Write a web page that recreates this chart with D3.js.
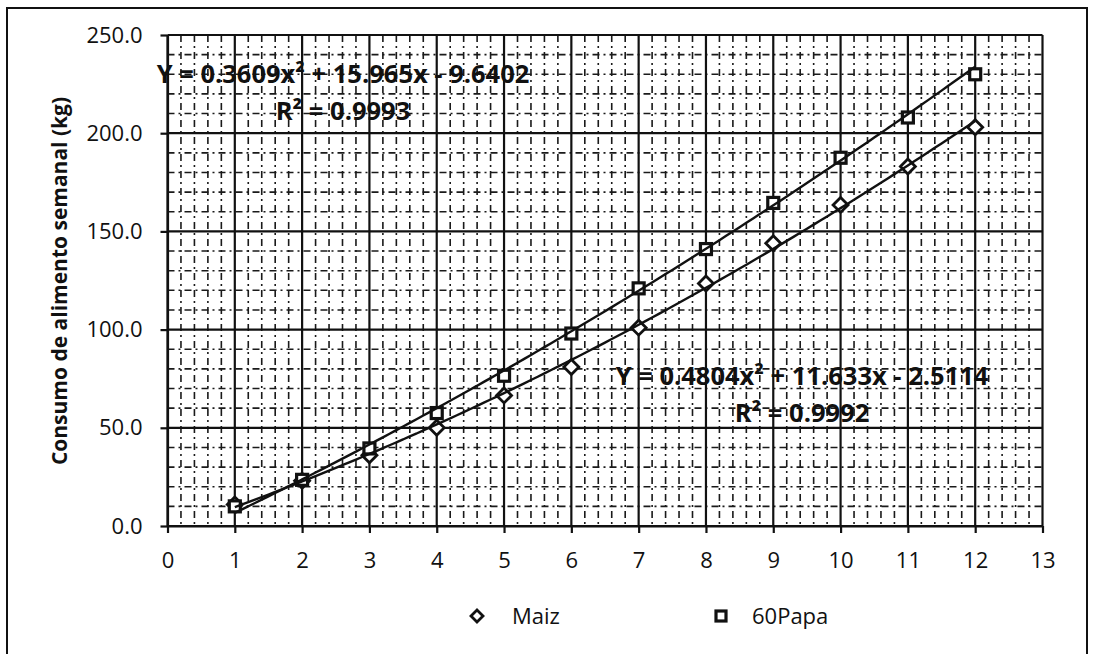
<!DOCTYPE html>
<html>
<head>
<meta charset="utf-8">
<script src="https://cdn.jsdelivr.net/npm/d3@7"></script>
<style>
  body { margin: 0; background: #fff; }
  text { font-family: "Open Sans", sans-serif; fill: #111; }
</style>
</head>
<body>
<script>
// Datos
const semanas = [1, 2, 3, 4, 5, 6, 7, 8, 9, 10, 11, 12];
const maiz = [11.0, 23.0, 36.0, 50.0, 66.5, 81.0, 101.0, 123.5, 144.0, 163.5, 183.0, 203.0];
const papa = [10.0, 23.5, 39.5, 57.5, 76.5, 98.0, 121.0, 141.0, 164.5, 187.5, 208.0, 230.0];

// Coeficientes de las lineas de tendencia (polinomica de grado 2)
const papaFit = [0.3609, 15.965, -9.6402];
const maizFit = [0.4804, 11.633, -2.5114];

const xTicks = [0, 1, 2, 3, 4, 5, 6, 7, 8, 9, 10, 11, 12, 13];
const yTicks = [0, 50, 100, 150, 200, 250];
const series = ["Maiz", "60Papa"];
const labels = [
    { eq: "Y = 0.3609x² + 15.965x - 9.6402", r2: "R² = 0.9993", cx: 343, y1: 83, y2: 120 },
    { eq: "Y = 0.4804x² + 11.633x - 2.5114", r2: "R² = 0.9992", cx: 802, y1: 385, y2: 422 }
];

const W = 1095, H = 654;
const svg = d3.select("body").append("svg")
    .attr("width", W).attr("height", H);

svg.append("rect").attr("width", W).attr("height", H).attr("fill", "#fff");

// marco exterior
svg.append("rect")
    .attr("x", 7).attr("y", 8)
    .attr("width", 1080).attr("height", 680)
    .attr("fill", "none").attr("stroke", "#111").attr("stroke-width", 2);

const x = d3.scaleLinear().domain([0, 13]).range([167.5, 1042.5]);
const y = d3.scaleLinear().domain([0, 250]).range([526, 35]);

const g = svg.append("g");

// grilla menor
const xMinor = d3.range(0, 13.001, 0.2).filter(v => Math.abs(v - Math.round(v)) > 1e-6);
const yMinor = d3.range(0, 251, 10).filter(v => v % 50 !== 0);

g.append("g").selectAll("line")
    .data(xMinor).enter().append("line")
    .attr("x1", d => x(d)).attr("x2", d => x(d))
    .attr("y1", y(250)).attr("y2", y(0))
    .attr("stroke", "#1a1a1a").attr("stroke-width", 1.6)
    .attr("stroke-dasharray", "7,4,2,4");

g.append("g").selectAll("line")
    .data(yMinor).enter().append("line")
    .attr("x1", x(0)).attr("x2", x(13))
    .attr("y1", d => y(d)).attr("y2", d => y(d))
    .attr("stroke", "#1a1a1a").attr("stroke-width", 1.6)
    .attr("stroke-dasharray", "7,4,2,4");

// grilla mayor
g.append("g").selectAll("line")
    .data(xTicks).enter().append("line")
    .attr("x1", d => x(d)).attr("x2", d => x(d))
    .attr("y1", y(250)).attr("y2", y(0))
    .attr("stroke", "#111").attr("stroke-width", 2.2);

g.append("g").selectAll("line")
    .data(yTicks).enter().append("line")
    .attr("x1", x(0)).attr("x2", x(13))
    .attr("y1", d => y(d)).attr("y2", d => y(d))
    .attr("stroke", "#111").attr("stroke-width", 2.2);

// ejes
const yAxis = d3.axisLeft(y).tickValues(yTicks).tickSize(7).tickSizeOuter(0)
    .tickPadding(18).tickFormat(d3.format(".1f"));
const xAxis = d3.axisBottom(x).tickValues(xTicks).tickSize(7).tickSizeOuter(0)
    .tickPadding(19);

const gy = g.append("g").attr("transform", "translate(" + x(0) + ",0)").call(yAxis);
const gx = g.append("g").attr("transform", "translate(0," + y(0) + ")").call(xAxis);
[gy, gx].forEach(a => {
    a.select(".domain").attr("stroke", "#111").attr("stroke-width", 2.2);
    a.selectAll(".tick line").attr("stroke", "#111").attr("stroke-width", 2.2);
    a.selectAll(".tick text").style("font-size", "22px").attr("fill", "#111");
});

svg.append("text")
    .attr("transform", "translate(67,281) rotate(-90)")
    .attr("text-anchor", "middle")
    .style("font-size", "21px").style("font-weight", "bold")
    .text("Consumo de alimento semanal (kg)");

// marcadores
const diamond = "M0,-7.5L7.5,0L0,7.5L-7.5,0Z";

g.append("g").selectAll("path")
    .data(semanas).enter().append("path")
    .attr("d", diamond)
    .attr("transform", (d, i) => "translate(" + x(d) + "," + y(maiz[i]) + ")")
    .attr("fill", "#fff").attr("stroke", "#111").attr("stroke-width", 2.8);

g.append("g").selectAll("rect")
    .data(semanas).enter().append("rect")
    .attr("x", d => x(d) - 5.5)
    .attr("y", (d, i) => y(papa[i]) - 5.5)
    .attr("width", 11).attr("height", 11)
    .attr("fill", "#fff").attr("stroke", "#111").attr("stroke-width", 3.2);

// lineas de tendencia
const poly = c => v => c[0] * v * v + c[1] * v + c[2];
const xs = d3.range(1, 12.001, 0.1);
const line = f => d3.line().x(d => x(d)).y(d => y(f(d))).curve(d3.curveMonotoneX);

[papaFit, maizFit].forEach(c => {
    g.append("path")
        .datum(xs)
        .attr("d", line(poly(c)))
        .attr("fill", "none").attr("stroke", "#111").attr("stroke-width", 2.4);
});

// etiquetas de ecuacion
labels.forEach(l => {
    g.append("text").attr("x", l.cx).attr("y", l.y1)
        .attr("text-anchor", "middle")
        .style("font-size", "25.5px").style("font-weight", "bold")
        .text(l.eq);
    g.append("text").attr("x", l.cx).attr("y", l.y2)
        .attr("text-anchor", "middle")
        .style("font-size", "25.5px").style("font-weight", "bold")
        .text(l.r2);
});

// leyenda
const leg = svg.append("g");
leg.append("path").attr("d", "M0,-6L6,0L0,6L-6,0Z")
    .attr("transform", "translate(477,616)")
    .attr("fill", "#fff").attr("stroke", "#111").attr("stroke-width", 2.8);
leg.append("text").attr("x", 512).attr("y", 624)
    .style("font-size", "22px").text(series[0]);
leg.append("rect").attr("x", 716).attr("y", 611).attr("width", 10).attr("height", 10)
    .attr("fill", "#fff").attr("stroke", "#111").attr("stroke-width", 3.2);
leg.append("text").attr("x", 752).attr("y", 624)
    .style("font-size", "22px").text(series[1]);
</script>
</body>
</html>
